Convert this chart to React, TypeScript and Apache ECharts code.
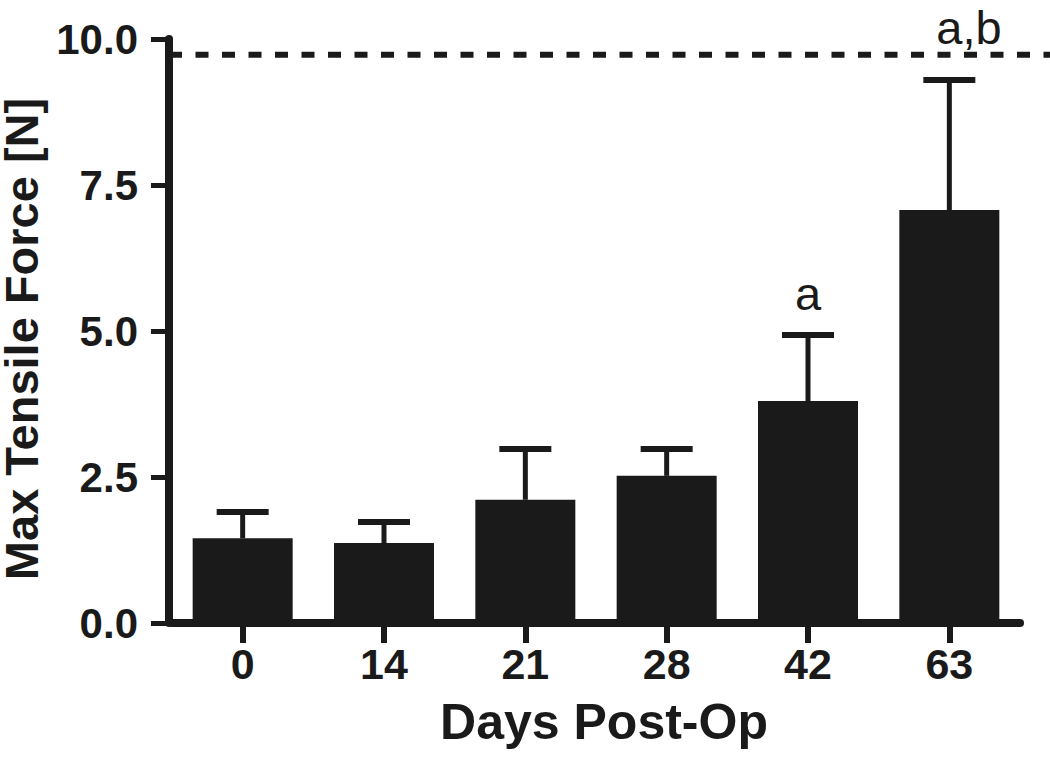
import React, { useEffect, useRef } from "react";
import * as echarts from "echarts";

const categories = ["0", "14", "21", "28", "42", "63"];
const means = [1.45, 1.37, 2.11, 2.52, 3.8, 7.07];
const sems = [0.45, 0.36, 0.87, 0.46, 1.13, 2.23];
const annotationTexts = ["", "", "", "", "a", "a,b"];
const annotationLevels = [null, null, null, null, 5.64, 10.19];
const referenceLevel = 9.73;

const INK = "#1a1a1a";
const SANS = "'Liberation Sans', Arial, Helvetica, sans-serif";
const NARROW = "'Liberation Sans Narrow', 'Arial Narrow', 'Liberation Sans', Arial, sans-serif";

export default function App() {
  const ref = useRef<HTMLDivElement>(null);

  useEffect(() => {
    const chart = echarts.init(ref.current!, null, { renderer: "svg" });

    const errorData = means.map((m, i) => [i, m, m + sems[i]]);
    const annData: any[] = [];
    annotationTexts.forEach((t, i) => {
      if (t && annotationLevels[i] != null) annData.push([i, annotationLevels[i], i]);
    });

    const option: any = {
      animation: false,
      backgroundColor: "#ffffff",
      grid: {
        left: 172,
        right: 30,
        top: 39,
        bottom: 142,
        containLabel: false,
        outerBoundsMode: "none",
      },
      xAxis: {
        type: "category",
        data: categories,
        axisLine: { show: true, lineStyle: { color: INK, width: 8 } },
        axisTick: { show: true, alignWithLabel: true, length: 20, lineStyle: { color: INK, width: 6 } },
        axisLabel: { color: INK, fontFamily: NARROW, fontWeight: "bold", fontSize: 43, margin: 19 },
        splitLine: { show: false },
        name: "Days Post-Op",
        nameLocation: "middle",
        nameGap: 74,
        nameTextStyle: { color: INK, fontFamily: SANS, fontWeight: "bold", fontSize: 50, padding: [0, 0, 0, 16] },
      },
      yAxis: {
        type: "value",
        min: 0,
        max: 10,
        interval: 2.5,
        offset: 3,
        axisLine: { show: true, lineStyle: { color: INK, width: 8 } },
        axisTick: { show: true, length: 18, lineStyle: { color: INK, width: 5 } },
        axisLabel: {
          color: INK,
          fontFamily: SANS,
          fontWeight: "bold",
          fontSize: 42,
          margin: 31,
          formatter: (v: number) => v.toFixed(1),
        },
        splitLine: { show: false },
        name: "Max Tensile Force [N]",
        nameLocation: "middle",
        nameGap: 116,
        nameRotate: 90,
        nameTextStyle: {
          color: INK,
          fontFamily: SANS,
          fontWeight: "bold",
          fontSize: 47,
          lineHeight: 40,
          padding: [0, 16, 0, 0],
        },
      },
      series: [
        {
          type: "bar",
          data: means,
          barWidth: 100,
          itemStyle: { color: INK },
          z: 2,
        },
        {
          type: "custom",
          data: errorData,
          encode: { x: 0, y: [1, 2] },
          z: 3,
          renderItem: (params: any, api: any) => {
            const idx = api.value(0);
            const x = api.coord([idx, 0])[0];
            const yTop = api.coord([idx, api.value(1)])[1];
            const yCap = api.coord([idx, api.value(2)])[1];
            const half = 26;
            return {
              type: "group",
              children: [
                { type: "line", shape: { x1: x, y1: yTop, x2: x, y2: yCap }, style: { stroke: INK, lineWidth: 5 } },
                { type: "line", shape: { x1: x - half, y1: yCap, x2: x + half, y2: yCap }, style: { stroke: INK, lineWidth: 6 } },
              ],
            };
          },
        },
        {
          type: "custom",
          data: annData,
          encode: { x: 0, y: 1 },
          z: 4,
          clip: false,
          renderItem: (params: any, api: any) => {
            const idx = api.value(0);
            const p = api.coord([idx, api.value(1)]);
            const text = annotationTexts[idx];
            return {
              type: "text",
              x: p[0] - 13,
              y: p[1],
              style: {
                text,
                fill: INK,
                fontFamily: SANS,
                fontSize: 47,
                lineHeight: 36,
                align: "left",
                verticalAlign: "middle",
              },
            };
          },
        },
      ],
    };

    chart.setOption(option);

    const yRef = chart.convertToPixel({ yAxisIndex: 0 }, referenceLevel) as number;
    chart.setOption({
      graphic: [
        {
          type: "line",
          z: 5,
          shape: { x1: 169, y1: yRef, x2: 1050, y2: yRef },
          style: { stroke: INK, lineWidth: 6, lineDash: [13, 13.5] },
        },
      ],
    });

    return () => chart.dispose();
  }, []);

  return (
    <div
      ref={ref}
      style={{ position: "fixed", left: 0, top: 0, width: 1050, height: 765, background: "#fff" }}
    />
  );
}
